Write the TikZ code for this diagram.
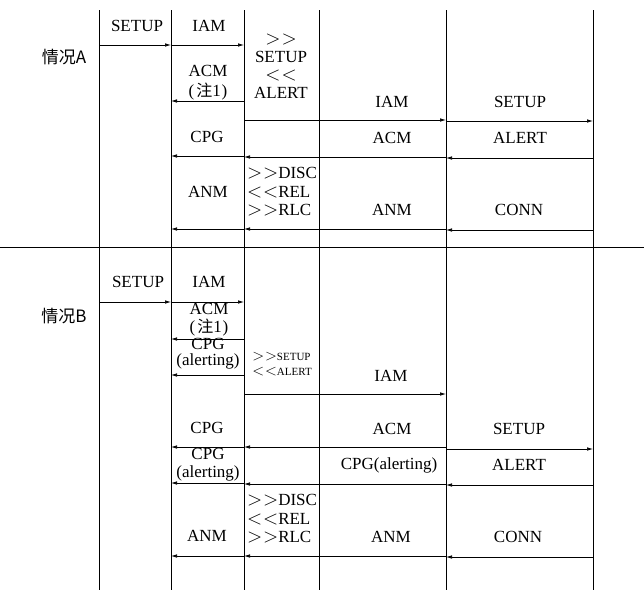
\documentclass[tikz,border=0pt]{standalone}
\usepackage{graphicx}
\usepackage{fontspec}
\setmainfont{Liberation Serif}
\newfontfamily\cjk{Noto Sans CJK SC}
\usetikzlibrary{arrows.meta}
\newcommand{\fwd}[1][1.15]{\scalebox{#1}{$>$}\kern1pt\scalebox{#1}{$>$}}
\newcommand{\bwd}[1][1.15]{\scalebox{#1}{$<$}\kern1pt\scalebox{#1}{$<$}}
\newcommand{\zhu}{(\kern2pt{\cjk\fontsize{16}{16}\selectfont 注}1\kern1pt)}
\newcommand{\smalltext}{\fontsize{11}{11}\selectfont}

\begin{document}
\begin{tikzpicture}[
        x=1pt, y=-1pt,
        every node/.style={inner sep=0pt, font=\fontsize{17}{18}\selectfont},
        lane/.style={draw, line width=0.8pt},
        msg/.style={draw, line width=0.7pt, -{Latex[length=6pt, width=3.5pt]}},
        twoline/.style={align=center, font=\fontsize{17}{18}\selectfont},
        stack/.style={align=left, font=\fontsize{17}{18.5}\selectfont},
        casename/.style={font=\cjk\fontsize{17}{17}\selectfont}
    ]
    \useasboundingbox (0,0) rectangle (644,590);

    % lanes
    \foreach \name/\x in {l0/99, l1/171, l2/244, l3/319, l4/446, l5/593} {
        \coordinate (\name) at (\x,10);
        \coordinate (\name b) at (\x,590);
        \draw[lane] (\name) -- (\name b);
    }
    \coordinate (sepl) at (0,247);
    \coordinate (sepr) at (644,247);
    \draw[lane] (sepl) -- (sepr);

    % case A
    \node[casename] (ca) at (64,57) {情况A};
    \node (sa1) at (137,26) {SETUP};
    \node (sa2) at (209,26) {IAM};
    \node[twoline] (sa3) at (281,66) {\fwd\\SETUP\\\bwd\\ALERT};
    \node[twoline, font=\fontsize{17}{20}\selectfont] (sa4) at (208,83) {ACM\\\zhu};
    \node (sa5) at (392,102) {IAM};
    \node (sa6) at (520,102) {SETUP};
    \node (sa7) at (207,137) {CPG};
    \node (sa8) at (392,138) {ACM};
    \node (sa9) at (520,138) {ALERT};
    \node[stack] (sa10) at (282,192) {\fwd DISC\\\bwd REL\\\fwd RLC};
    \node (sa11) at (208,192) {ANM};
    \node (sa12) at (392,210) {ANM};
    \node (sa13) at (519,210) {CONN};

    \foreach \a/\b/\y in {l0/l1/45, l1/l2/45, l2/l1/101, l2/l4/120, l4/l5/121,
            l2/l1/156, l4/l2/157, l5/l4/158, l2/l1/229, l4/l2/229, l5/l4/230}
        \draw[msg] (\a |- 0,\y) -- (\b |- 0,\y);

    % case B
    \node[casename] (cb) at (64,316) {情况B};
    \node (sb1) at (138,282) {SETUP};
    \node (sb2) at (209,282) {IAM};
    \node[twoline] (sb3) at (209,320) {ACM\\\zhu};
    \node[twoline, font=\fontsize{17}{16}\selectfont] (sb4) at (208,354) {CPG\\(alerting)};
    \node[stack, font=\fontsize{17}{14.5}\selectfont] (sb5) at (282,364) {\fwd[0.9]{\smalltext SETUP}\\\bwd[0.9]{\smalltext ALERT}};
    \node (sb6) at (391,376) {IAM};
    \node (sb7) at (207,428) {CPG};
    \node (sb8) at (392,429) {ACM};
    \node (sb9) at (519,429) {SETUP};
    \node[twoline] (sb10) at (208,465) {CPG\\(alerting)};
    \node (sb11) at (389,465) {CPG(alerting)};
    \node (sb12) at (519,465) {ALERT};
    \node[stack] (sb13) at (282,519) {\fwd DISC\\\bwd REL\\\fwd RLC};
    \node (sb14) at (207,536) {ANM};
    \node (sb15) at (391,537) {ANM};
    \node (sb16) at (518,537) {CONN};

    \foreach \a/\b/\y in {l0/l1/302, l1/l2/302, l2/l1/339, l2/l1/375, l2/l4/394,
            l2/l1/447, l4/l2/447, l4/l5/449, l2/l1/483, l4/l2/484, l5/l4/485,
            l2/l1/556, l4/l2/556, l5/l4/557}
        \draw[msg] (\a |- 0,\y) -- (\b |- 0,\y);
\end{tikzpicture}
\end{document}
